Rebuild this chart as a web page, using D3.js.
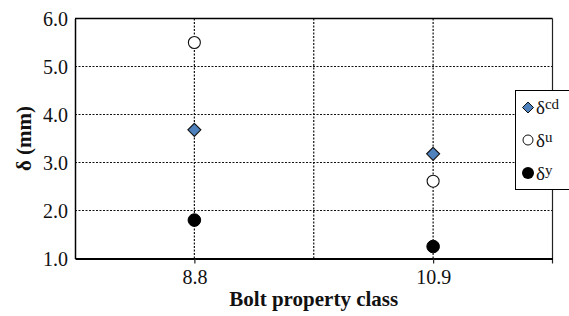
<!DOCTYPE html>
<html><head><meta charset="utf-8">
<script src="https://cdn.jsdelivr.net/npm/d3@7"></script>
<style>body{margin:0;background:#fff}svg{display:block}</style>
</head><body>
<svg id="c" width="569" height="316" font-family="Liberation Serif"></svg>
<script>
const categories = ["8.8", "10.9"];
const deltaCd = [3.68, 3.18];
const deltaU = [5.50, 2.61];
const deltaY = [1.80, 1.25];
const yTicks = [1.0, 2.0, 3.0, 4.0, 5.0, 6.0];
const seriesNames = [["δ","cd"],["δ","u"],["δ","y"]];
const FONT = "Liberation Serif";

const svg = d3.select("#c");
const L = 75, R = 552.5, T = 18.5, B = 258.5;
const x = d3.scaleLinear().domain([0, 4]).range([L, R]);
const y = d3.scaleLinear().domain([1, 6]).range([B, T]);
const catPos = categories.map((c, i) => 1 + 2 * i);

// gridlines
const g = svg.append("g");
g.selectAll("line.h").data(yTicks.slice(1, -1)).join("line")
  .attr("x1", L).attr("x2", R).attr("y1", d => y(d)).attr("y2", d => y(d))
  .attr("stroke", "#111").attr("stroke-width", 1.2).attr("stroke-dasharray", "2,1.5");
g.selectAll("line.v").data([1, 2, 3]).join("line")
  .attr("x1", d => x(d)).attr("x2", d => x(d)).attr("y1", T).attr("y2", B)
  .attr("stroke", "#111").attr("stroke-width", 1.2).attr("stroke-dasharray", "2,1.5");

// frame
svg.append("line").attr("x1", L).attr("x2", R).attr("y1", T).attr("y2", T).attr("stroke", "#000").attr("stroke-width", 1.5);
svg.append("line").attr("x1", R).attr("x2", R).attr("y1", T).attr("y2", B + 5).attr("stroke", "#222").attr("stroke-width", 1.2);

// axes
const yAxis = d3.axisLeft(y).tickValues(yTicks).tickFormat(d3.format(".1f")).tickSize(0).tickPadding(7);
const ya = svg.append("g").attr("transform", `translate(${L},0)`).call(yAxis);
ya.attr("font-family", FONT).attr("font-size", 20);
ya.select(".domain").attr("stroke", "#000").attr("stroke-width", 1.5);
ya.selectAll("text").attr("fill", "#111").attr("dy", "0.35em");

const xAxis = d3.axisBottom(x).tickValues(catPos).tickFormat((d, i) => categories[i]).tickSize(5).tickPadding(6).tickSizeOuter(0);
const xa = svg.append("g").attr("transform", `translate(0,${B})`).call(xAxis);
xa.attr("font-family", FONT).attr("font-size", 20);
xa.select(".domain").attr("stroke", "#000").attr("stroke-width", 2);
xa.selectAll(".tick line").attr("stroke", "#222").attr("stroke-width", 1.2);
xa.selectAll("text").attr("fill", "#111");

// titles
svg.append("text").attr("x", (L + R) / 2).attr("y", 306).attr("text-anchor", "middle")
  .attr("font-family", FONT).attr("font-size", 21).attr("font-weight", "bold").attr("fill", "#111").text("Bolt property class");
svg.append("text").attr("transform", `translate(31,138.5) rotate(-90)`).attr("text-anchor", "middle")
  .attr("font-family", FONT).attr("font-size", 21).attr("font-weight", "bold").attr("fill", "#111").text("δ (mm)");

// points
function diamondPath(s) { return `M0,${-s}L${s},0L0,${s}L${-s},0Z`; }
svg.selectAll("path.cd").data(deltaCd).join("path")
  .attr("transform", (d, i) => `translate(${x(catPos[i])},${y(d)})`)
  .attr("d", diamondPath(6.5)).attr("fill", "#4f81bd").attr("stroke", "#111").attr("stroke-width", 1.1);
svg.selectAll("circle.u").data(deltaU).join("circle")
  .attr("cx", (d, i) => x(catPos[i])).attr("cy", d => y(d)).attr("r", 6)
  .attr("fill", "#fff").attr("stroke", "#111").attr("stroke-width", 1.1);
svg.selectAll("circle.y").data(deltaY).join("circle")
  .attr("cx", (d, i) => x(catPos[i])).attr("cy", d => y(d)).attr("r", 6.3)
  .attr("fill", "#000").attr("stroke", "#000").attr("stroke-width", 1);

// legend
const lg = svg.append("g").attr("transform", "translate(515.5,90.5)");
lg.append("rect").attr("width", 60).attr("height", 99).attr("fill", "#fff").attr("stroke", "#000").attr("stroke-width", 1);
const rows = [17, 49.5, 82.5];
lg.append("path").attr("transform", `translate(12.5,${rows[0]})`).attr("d", diamondPath(5.5))
  .attr("fill", "#4f81bd").attr("stroke", "#111").attr("stroke-width", 1);
lg.append("circle").attr("cx", 12.5).attr("cy", rows[1]).attr("r", 5).attr("fill", "#fff").attr("stroke", "#111").attr("stroke-width", 1);
lg.append("circle").attr("cx", 12.5).attr("cy", rows[2]).attr("r", 6).attr("fill", "#000");
seriesNames.forEach((n, i) => {
  const t = lg.append("text").attr("x", 20.5).attr("y", rows[i] + 6.5).attr("font-family", FONT).attr("font-size", 19).attr("fill", "#111");
  t.append("tspan").text(n[0]);
  t.append("tspan").attr("dy", -5).attr("font-size", 15).text(n[1]);
});
</script>
</body></html>
